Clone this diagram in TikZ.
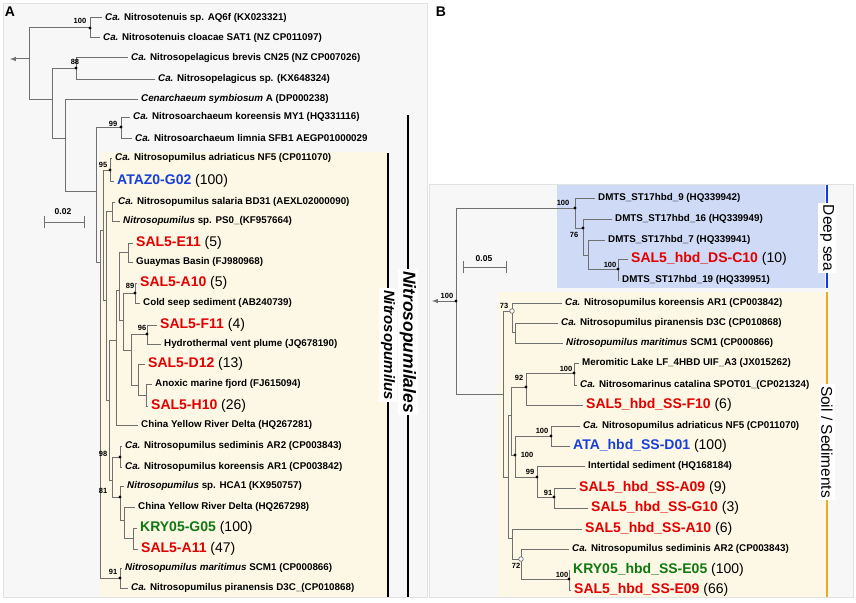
\documentclass[tikz,border=0pt]{standalone}
\usepackage{fontspec}
\setmainfont{Liberation Sans}
\usepackage{xcolor}
\definecolor{salred}{RGB}{226,0,0}
\definecolor{atablue}{RGB}{24,64,216}
\definecolor{krygreen}{RGB}{16,120,16}
\definecolor{branchgray}{RGB}{112,112,112}
\definecolor{panelbg}{RGB}{247,247,247}
\definecolor{panelline}{RGB}{226,226,226}
\definecolor{cladecream}{RGB}{253,248,230}
\definecolor{deepfill}{RGB}{206,218,246}
\definecolor{deepbar}{RGB}{20,60,230}
\definecolor{soilbar}{RGB}{232,170,30}
\newcommand{\ca}{\textit{Ca.}}
\newcommand{\otu}[3]{\textcolor{#1}{\textbf{#2}} (#3)}

\tikzset{
  branch/.style={draw=branchgray, line width=1pt},
  leaf/.style={anchor=west, inner xsep=3pt, inner ysep=0pt,
    font=\fontsize{9.8}{11}\selectfont\bfseries},
  otulab/.style={anchor=west, inner xsep=3pt, inner ysep=0pt,
    font=\fontsize{14}{16}\selectfont},
  boot/.style={font=\fontsize{7.5}{8}\selectfont\bfseries, inner sep=0pt},
  cladebar/.style={line width=1.8pt},
  cladelab/.style={fill=white, rotate=-90, inner sep=2pt},
}

\begin{document}
\begin{tikzpicture}[x=1pt, y=-1pt]
  \useasboundingbox (0,0) rectangle (856,602);

  % panels
  \draw[panelline, fill=panelbg] (3,3) rectangle (427,597);
  \draw[panelline, fill=panelbg] (429,184) rectangle (853,597);
  \fill[cladecream] (100,152) rectangle (388,597);
  \fill[deepfill] (557,185) rectangle (825,288);
  \fill[cladecream] (498,292) rectangle (825,597);

  \node[font=\fontsize{14}{16}\selectfont\bfseries] (pa) at (10,12) {A};
  \node[font=\fontsize{14}{16}\selectfont\bfseries] (pb) at (441,12) {B};

  % ---------- tree A ----------
  \coordinate (tipA) at (10,59);
  \coordinate (rA) at (29,59);
  \coordinate (n100) at (90,28);
  \coordinate (n52) at (52,99);
  \coordinate (n88) at (76,68);
  \coordinate (n65) at (65,138);
  \coordinate (nX) at (96,191);
  \coordinate (n99) at (121,127);
  \coordinate (p0) at (100,262);
  \coordinate (p1) at (103,230);
  \coordinate (a95) at (110,170);
  \coordinate (p2) at (106,300);
  \coordinate (a2) at (112,211);
  \coordinate (p3) at (109,400);
  \coordinate (p4) at (116,340);
  \coordinate (b4) at (119,290);
  \coordinate (a3) at (128,252);
  \coordinate (b3) at (123,320);
  \coordinate (a89) at (135,293);
  \coordinate (b1) at (131,350);
  \coordinate (a96) at (147,334);
  \coordinate (b2) at (138,385);
  \coordinate (a6) at (146,395);
  \coordinate (p5) at (112,480);
  \coordinate (a98) at (120,457);
  \coordinate (p6) at (120,497);
  \coordinate (p7) at (124,520);
  \coordinate (p8) at (133,538);
  \coordinate (a91) at (120,578);

  \node[leaf] (la1) at (102,18) {\ca{} Nitrosotenuis sp. AQ6f (KX023321)};
  \node[leaf] (la2) at (100,38) {\ca{} Nitrosotenuis cloacae SAT1 (NZ CP011097)};
  \node[leaf] (la3) at (128,58) {\ca{} Nitrosopelagicus brevis CN25 (NZ CP007026)};
  \node[leaf] (la4) at (155,79) {\ca{} Nitrosopelagicus sp. (KX648324)};
  \node[leaf] (la5) at (138,99) {\textit{Cenarchaeum symbiosum} A (DP000238)};
  \node[leaf] (la6) at (130,117) {\ca{} Nitrosoarchaeum koreensis MY1 (HQ331116)};
  \node[leaf] (la7) at (132,138) {\ca{} Nitrosoarchaeum limnia SFB1 AEGP01000029};
  \node[leaf] (la8) at (112,158) {\ca{} Nitrosopumilus adriaticus NF5 (CP011070)};
  \node[otulab] (la9) at (114,181) {\otu{atablue}{ATAZ0-G02}{100}};
  \node[leaf] (la10) at (115,202) {\ca{} Nitrosopumilus salaria BD31 (AEXL02000090)};
  \node[leaf] (la11) at (120,221) {\textit{Nitrosopumilus} sp. PS0\_(KF957664)};
  \node[otulab] (la12) at (133,243) {\otu{salred}{SAL5-E11}{5}};
  \node[leaf] (la13) at (133,262) {Guaymas Basin (FJ980968)};
  \node[otulab] (la14) at (137,283) {\otu{salred}{SAL5-A10}{5}};
  \node[leaf] (la15) at (140,303) {Cold seep sediment (AB240739)};
  \node[otulab] (la16) at (157,325) {\otu{salred}{SAL5-F11}{4}};
  \node[leaf] (la17) at (161,344) {Hydrothermal vent plume (JQ678190)};
  \node[otulab] (la18) at (145,364) {\otu{salred}{SAL5-D12}{13}};
  \node[leaf] (la19) at (152,384) {Anoxic marine fjord (FJ615094)};
  \node[otulab] (la20) at (148,406) {\otu{salred}{SAL5-H10}{26}};
  \node[leaf] (la21) at (138,425) {China Yellow River Delta (HQ267281)};
  \node[leaf] (la22) at (122,446) {\ca{} Nitrosopumilus sediminis AR2 (CP003843)};
  \node[leaf] (la23) at (122,467) {\ca{} Nitrosopumilus koreensis AR1 (CP003842)};
  \node[leaf] (la24) at (124,486) {\textit{Nitrosopumilus} sp. HCA1 (KX950757)};
  \node[leaf] (la25) at (135,507) {China Yellow River Delta (HQ267298)};
  \node[otulab] (la26) at (137,528) {\otu{krygreen}{KRY05-G05}{100}};
  \node[otulab] (la27) at (138,549) {\otu{salred}{SAL5-A11}{47}};
  \node[leaf] (la28) at (122,568) {\textit{Nitrosopumilus maritimus} SCM1 (CP000866)};
  \node[leaf] (la29) at (128,588) {\ca{} Nitrosopumilus piranensis D3C\_(CP010868)};

  \draw[branch, -latex] (rA) -- (tipA);
  \foreach \p/\c in {rA/n100, rA/n52, n100/la1, n100/la2, n52/n88, n52/n65,
      n88/la3, n88/la4, n65/la5, n65/nX, nX/n99, nX/p0, n99/la6, n99/la7,
      p0/p1, p0/a91, p1/a95, p1/p2, a95/la8, a95/la9, p2/a2, p2/p3,
      a2/la10, a2/la11, p3/p4, p3/p5, p4/b4, p4/la21, b4/a3, b4/b3,
      a3/la12, a3/la13, b3/a89, b3/b1, a89/la14, a89/la15, b1/a96, b1/b2,
      a96/la16, a96/la17, b2/la18, b2/a6, a6/la19, a6/la20, p5/a98, p5/p6,
      a98/la22, a98/la23, p6/la24, p6/p7, p7/la25, p7/p8, p8/la26, p8/la27,
      a91/la28, a91/la29}
    \draw[branch] (\p) |- (\c);
  \foreach \n in {n100, n88, n99, a95, a89, a96, a98, p6, a91}
    \fill (\n) circle (1.7pt);
  \foreach \x/\y/\t [count=\i] in {80/21/100, 75/62/88, 113/124/99, 103/165/95,
      130/286/89, 142/328/96, 103/454/98, 103/491/81, 113/572/91}
    \node[boot] (bsA\i) at (\x,\y) {\t};

  % scale A
  \draw[branch] (44,222) -- (84,222);
  \draw[branch] (44,216) -- (44,228);
  \draw[branch] (84,216) -- (84,228);
  \node[boot, font=\fontsize{8.5}{9}\selectfont\bfseries] (scA) at (63,212) {0.02};

  % clade bars A
  \draw[cladebar] (388,153) -- (388,597);
  \node[cladelab, font=\fontsize{15}{17}\selectfont\bfseries\itshape] (lnp) at (388,345) {Nitrosopumilus};
  \draw[cladebar] (408,115) -- (408,597);
  \node[cladelab, font=\fontsize{17.5}{19}\selectfont\bfseries\itshape] (lnl) at (408,342) {Nitrosopumilales};

  % ---------- tree B ----------
  \coordinate (tipB) at (432,301);
  \coordinate (rB) at (456,301);
  \coordinate (d1) at (575,208);
  \coordinate (d2) at (583,228);
  \coordinate (d3) at (588,255);
  \coordinate (d4) at (618,269);
  \coordinate (s0) at (503,394);
  \coordinate (s73) at (512,311);
  \coordinate (s23) at (515,332);
  \coordinate (sh) at (508,477);
  \coordinate (sg) at (511,415);
  \coordinate (s92) at (526,387);
  \coordinate (s100a) at (574,373);
  \coordinate (s100b) at (515,455);
  \coordinate (s100c) at (551,436);
  \coordinate (s99) at (537,477);
  \coordinate (s91) at (554,497);
  \coordinate (sj) at (512,538);
  \coordinate (s72) at (521,559);
  \coordinate (s100d) at (569,579);

  \node[leaf] (lb1) at (595,198) {DMTS\_ST17hbd\_9 (HQ339942)};
  \node[leaf] (lb2) at (612,219) {DMTS\_ST17hbd\_16 (HQ339949)};
  \node[leaf] (lb3) at (605,240) {DMTS\_ST17hbd\_7 (HQ339941)};
  \node[otulab] (lb4) at (628,259) {\otu{salred}{SAL5\_hbd\_DS-C10}{10}};
  \node[leaf] (lb5) at (619,280) {DMTS\_ST17hbd\_19 (HQ339951)};
  \node[leaf] (lb6) at (562,303) {\ca{} Nitrosopumilus koreensis AR1 (CP003842)};
  \node[leaf] (lb7) at (558,323) {\ca{} Nitrosopumilus piranensis D3C (CP010868)};
  \node[leaf] (lb8) at (563,343) {\textit{Nitrosopumilus maritimus} SCM1 (CP000866)};
  \node[leaf] (lb9) at (579,363) {Meromitic Lake LF\_4HBD UIF\_A3 (JX015262)};
  \node[leaf] (lb10) at (577,385) {\ca{} Nitrosomarinus catalina SPOT01\_(CP021324)};
  \node[otulab] (lb11) at (583,405) {\otu{salred}{SAL5\_hbd\_SS-F10}{6}};
  \node[leaf] (lb12) at (580,426) {\ca{} Nitrosopumilus adriaticus NF5 (CP011070)};
  \node[otulab] (lb13) at (570,446) {\otu{atablue}{ATA\_hbd\_SS-D01}{100}};
  \node[leaf] (lb14) at (585,466) {Intertidal sediment (HQ168184)};
  \node[otulab] (lb15) at (576,488) {\otu{salred}{SAL5\_hbd\_SS-A09}{9}};
  \node[otulab] (lb16) at (588,508) {\otu{salred}{SAL5\_hbd\_SS-G10}{3}};
  \node[otulab] (lb17) at (582,529) {\otu{salred}{SAL5\_hbd\_SS-A10}{6}};
  \node[leaf] (lb18) at (569,549) {\ca{} Nitrosopumilus sediminis AR2 (CP003843)};
  \node[otulab] (lb19) at (570,570) {\otu{krygreen}{KRY05\_hbd\_SS-E05}{100}};
  \node[otulab] (lb20) at (571,590) {\otu{salred}{SAL5\_hbd\_SS-E09}{66}};

  \draw[branch, -latex] (rB) -- (tipB);
  \foreach \p/\c in {rB/d1, rB/s0, d1/lb1, d1/d2, d2/lb2, d2/d3, d3/lb3, d3/d4,
      d4/lb4, d4/lb5, s0/s73, s0/sh, s73/lb6, s73/s23, s23/lb7, s23/lb8,
      sh/sg, sh/sj, sg/s92, sg/s100b, s92/s100a, s92/lb11, s100a/lb9, s100a/lb10,
      s100b/s100c, s100b/s99, s100c/lb12, s100c/lb13, s99/lb14, s99/s91,
      s91/lb15, s91/lb16, sj/lb17, sj/s72, s72/lb18, s72/s100d,
      s100d/lb19, s100d/lb20}
    \draw[branch] (\p) |- (\c);
  \foreach \n in {rB, d1, d2, d4, s92, s100a, s100b, s100c, s99, s91, s100d}
    \fill (\n) circle (1.7pt);
  \foreach \n in {s73, s72}
    \draw[branchgray, fill=white, line width=0.7pt] (\n) circle (2.3pt);
  \foreach \x/\y/\t [count=\i] in {447/296/100, 563/203/100, 574/235/76,
      610/265/100, 504/306/73, 519/378/92, 566/369/100, 542/431/100,
      527/455/100, 530/472/99, 548/493/91, 516/566/72, 562/575/100}
    \node[boot] (bsB\i) at (\x,\y) {\t};

  % scale B
  \draw[branch] (463,267) -- (506,267);
  \draw[branch] (463,261) -- (463,273);
  \draw[branch] (506,261) -- (506,273);
  \node[boot, font=\fontsize{8.5}{9}\selectfont\bfseries] (scB) at (484,259) {0.05};

  % habitat bars B
  \draw[deepbar, line width=1.5pt] (827,185) -- (827,288);
  \node[cladelab, font=\fontsize{15.5}{17}\selectfont] (ldeep) at (827,238) {Deep sea};
  \draw[soilbar, line width=1.5pt] (827,292) -- (827,597);
  \node[cladelab, font=\fontsize{15.5}{17}\selectfont] (lsoil) at (827,442) {Soil / Sediments};
\end{tikzpicture}
\end{document}
